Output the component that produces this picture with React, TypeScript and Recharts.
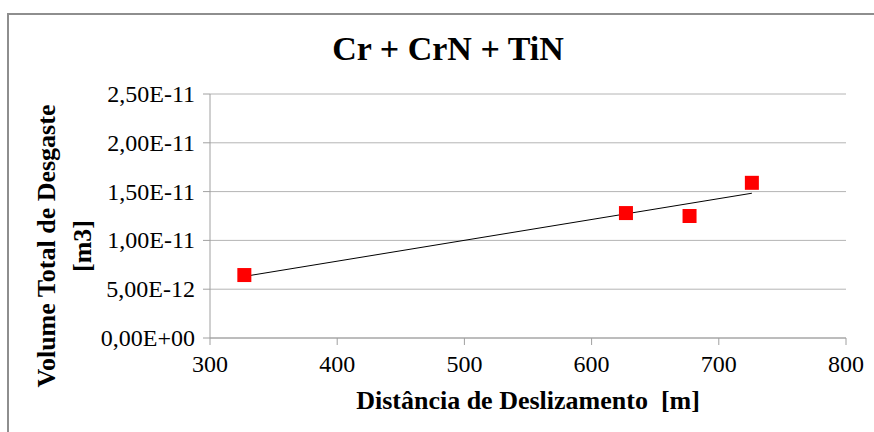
import { CartesianGrid, Scatter, ScatterChart, XAxis, YAxis } from "recharts";

const distancia = [327, 627, 677, 726];
const volume = [6.45e-12, 1.28e-11, 1.25e-11, 1.59e-11];
const xTicks = [300, 400, 500, 600, 700, 800];
const yTicks = [0, 5e-12, 1e-11, 1.5e-11, 2e-11, 2.5e-11];

const FONT = "Liberation Serif";

const points = distancia.map((x, i) => ({ x, y: volume[i] }));

// linear trend line (least squares), like Excel
function trendLine() {
    const n = distancia.length;
    const mx = distancia.reduce((a, b) => a + b, 0) / n;
    const my = volume.reduce((a, b) => a + b, 0) / n;
    let sxy = 0;
    let sxx = 0;
    for (let i = 0; i < n; i++) {
        sxy += (distancia[i] - mx) * (volume[i] - my);
        sxx += (distancia[i] - mx) * (distancia[i] - mx);
    }
    const slope = sxy / sxx;
    const xmin = Math.min(...distancia);
    const xmax = Math.max(...distancia);
    return [
        { x: xmin, y: my + slope * (xmin - mx) },
        { x: xmax, y: my + slope * (xmax - mx) },
    ];
}

function formatSci(v: number) {
    if (v === 0) return "0,00E+00";
    const exp = Math.floor(Math.log10(Math.abs(v)) + 1e-9);
    const mant = v / Math.pow(10, exp);
    const sign = exp < 0 ? "-" : "+";
    const e = String(Math.abs(exp)).padStart(2, "0");
    return mant.toFixed(2).replace(".", ",") + "E" + sign + e;
}

const Square = (props: any) => {
    const { cx, cy } = props;
    if (cx == null || cy == null) return <g />;
    return <rect x={cx - 7} y={cy - 7} width={14} height={14} fill="#ff0000" />;
};

const NoShape = () => <g />;

const XTick = (props: any) => {
    const { x, y, payload } = props;
    return (
        <g>
            <text x={x} y={y + 17} textAnchor="middle" fill="#000" fontFamily={FONT} fontSize={24} style={{ fontFamily: FONT, fontSize: 24 }}>
                {payload.value}
            </text>
        </g>
    );
};

const YTick = (props: any) => {
    const { x, y, payload } = props;
    return (
        <g>
            <text x={x} y={y + 8} textAnchor="end" fill="#000" fontFamily={FONT} fontSize={24} style={{ fontFamily: FONT, fontSize: 24 }}>
                {formatSci(payload.value)}
            </text>
        </g>
    );
};

const App = () => {
    const trend = trendLine();

    return (
        <div style={{ position: "absolute", left: 0, top: 0, width: 874, height: 432, background: "#fff", fontFamily: FONT }}>
            <div style={{ position: "absolute", left: 7, top: 13, width: 867, height: 419, borderTop: "2px solid #8e8e8e", borderLeft: "2px solid #8e8e8e" }} />
            <div style={{ position: "absolute", left: 0, top: 30, width: 896, textAlign: "center", fontWeight: "bold", fontSize: 34 }}>
                Cr + CrN + TiN
            </div>
            <ScatterChart width={874} height={432} margin={{ top: 94, right: 28, bottom: 54, left: 0 }}>
                <CartesianGrid vertical={false} stroke="#b4b4b4" />
                <XAxis
                    type="number"
                    dataKey="x"
                    domain={[300, 800]}
                    ticks={xTicks}
                    height={40}
                    axisLine={{ stroke: "#a0a0a0" }}
                    tickLine={{ stroke: "#a0a0a0" }}
                    tickSize={7}
                    tickMargin={10}
                    tick={XTick}
                />
                <YAxis
                    type="number"
                    dataKey="y"
                    domain={[0, 2.5e-11]}
                    ticks={yTicks}
                    width={210}
                    axisLine={{ stroke: "#a0a0a0" }}
                    tickLine={{ stroke: "#a0a0a0" }}
                    tickSize={7}
                    tickMargin={8}
                    tick={YTick}
                />
                <Scatter data={trend} line={{ stroke: "#000", strokeWidth: 1 }} shape={NoShape} isAnimationActive={false} />
                <Scatter data={points} shape={Square} isAnimationActive={false} />
            </ScatterChart>
            <div style={{ position: "absolute", left: 210, top: 386, width: 636, textAlign: "center", fontWeight: "bold", fontSize: 26, whiteSpace: "pre" }}>
                {"Distância de Deslizamento  [m]"}
            </div>
            <div
                style={{
                    position: "absolute",
                    left: 65 - 160,
                    top: 246 - 36,
                    width: 320,
                    height: 72,
                    lineHeight: "36px",
                    textAlign: "center",
                    fontWeight: "bold",
                    fontSize: 26,
                    transform: "rotate(-90deg)",
                }}
            >
                Volume Total de Desgaste
                <br />
                [m3]
            </div>
        </div>
    );
};

export default App;
